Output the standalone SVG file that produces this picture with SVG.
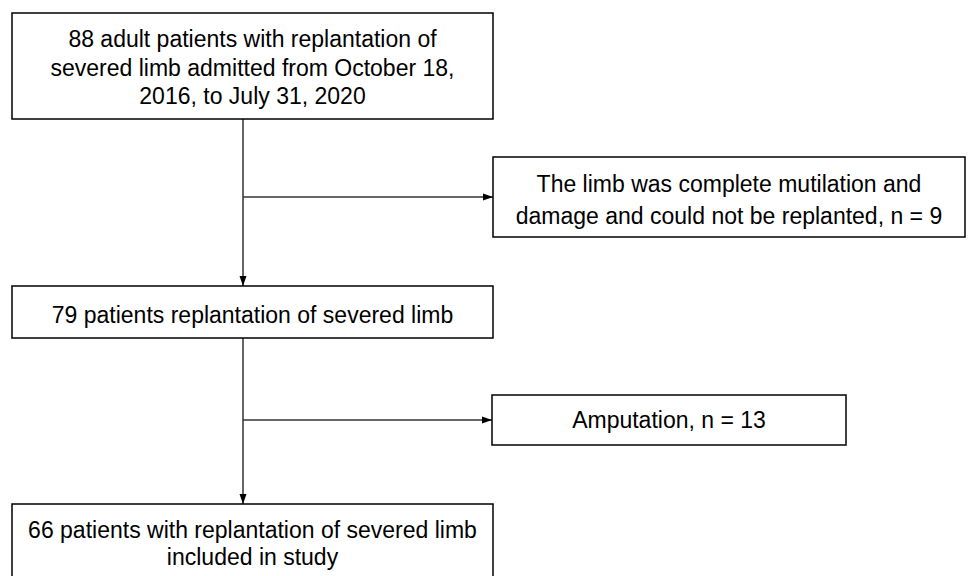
<svg xmlns="http://www.w3.org/2000/svg" width="968" height="576" viewBox="0 0 968 576">
<defs>
<style>
.box{fill:#fff;stroke:#000;stroke-width:1.5}
.t{font-family:"Liberation Sans",Arial,sans-serif;font-size:23px;fill:#000;text-anchor:middle}
.c{stroke:#333;stroke-width:1.5;fill:none}
</style>
<marker id="ah" viewBox="0 0 10 10" refX="10" refY="5" markerWidth="11" markerHeight="10" markerUnits="userSpaceOnUse" orient="auto">
<path d="M0,1.5 L10,5 L0,8.5 z" fill="#000"/>
</marker>
</defs>
<rect width="968" height="576" fill="#fff"/>
<g id="connectors">
<line class="c" x1="243" y1="119" x2="243" y2="286" marker-end="url(#ah)"/>
<line class="c" x1="243" y1="197" x2="493" y2="197" marker-end="url(#ah)"/>
<line class="c" x1="243" y1="338" x2="243" y2="504" marker-end="url(#ah)"/>
<line class="c" x1="243" y1="420" x2="492" y2="420" marker-end="url(#ah)"/>
</g>
<g id="n1">
<rect class="box" x="12" y="13" width="481" height="106"/>
<text class="t" x="252.5" y="47">88 adult patients with replantation of</text>
<text class="t" x="252.5" y="76">severed limb admitted from October 18,</text>
<text class="t" x="252.5" y="104">2016, to July 31, 2020</text>
</g>
<g id="n2">
<rect class="box" x="493" y="157" width="472" height="80"/>
<text class="t" x="729" y="192">The limb was complete mutilation and</text>
<text class="t" x="729" y="224">damage and could not be replanted, n = 9</text>
</g>
<g id="n3">
<rect class="box" x="12" y="286" width="481" height="52"/>
<text class="t" x="252.5" y="323">79 patients replantation of severed limb</text>
</g>
<g id="n4">
<rect class="box" x="492" y="395" width="354" height="50"/>
<text class="t" x="669" y="428">Amputation, n = 13</text>
</g>
<g id="n5">
<rect class="box" x="12" y="504" width="481" height="90"/>
<text class="t" x="252.5" y="538">66 patients with replantation of severed limb</text>
<text class="t" x="252.5" y="565">included in study</text>
</g>
</svg>
